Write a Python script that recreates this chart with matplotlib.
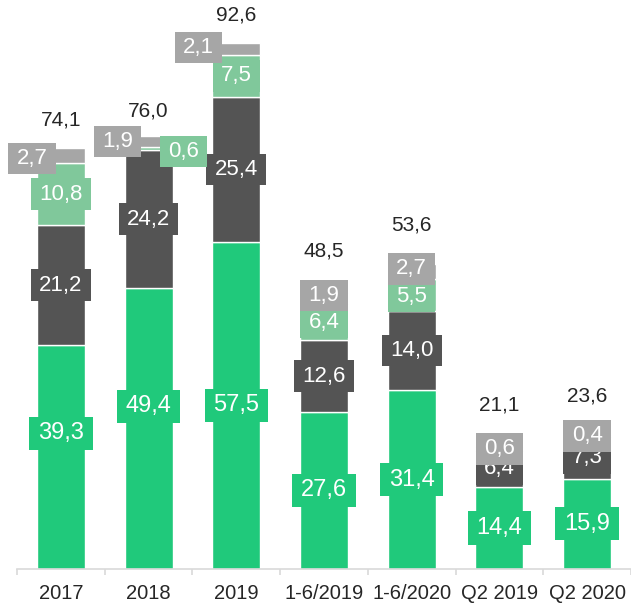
import numpy as np
import matplotlib
matplotlib.use('Agg')
import matplotlib.pyplot as plt
from matplotlib.path import Path

plt.rcParams['font.family'] = ['Liberation Sans', 'DejaVu Sans']

# Data
categories = ['2017', '2018', '2019', '1-6/2019', '1-6/2020', 'Q2 2019', 'Q2 2020']
seg_green = [39.3, 49.4, 57.5, 27.6, 31.4, 14.4, 15.9]
seg_dark = [21.2, 24.2, 25.4, 12.6, 14.0, 6.4, 7.3]
seg_light_green = [10.8, 0.6, 7.5, 6.4, 5.5, 0.0, 0.0]
seg_light_gray = [2.7, 1.9, 2.1, 1.9, 2.7, 0.6, 0.4]
totals = [74.1, 76.0, 92.6, 48.5, 53.6, 21.1, 23.6]

# Styles
colors = ['#20C97B', '#545454', '#80C89B', '#A6A6A6']
label_sizes = [17, 16, 16, 16]
text_col = '#262626'
# manual label shifts in pixels (dx, dy) for crowded segments
shifts = {(0, 0): (0, 24), (1, 0): (0, 22),
          (0, 3): (-29, -3), (1, 3): (-31, 0), (1, 2): (35, -3), (2, 3): (-38, 1),
          (3, 3): (0, 3), (4, 3): (0, 3), (4, 2): (0, -1)}
total_gap = [27, 26, 27, 42, 39, 44, 39]  # px above bar top


def label_box(x0, y0, width, height, mutation_size):
    # rectangle with more padding left/right than top/bottom
    hp, vp = 0.37 * mutation_size, 0.24 * mutation_size
    x0, y0 = x0 - hp, y0 - vp
    x1, y1 = x0 + width + 2 * hp, y0 + height + 2 * vp
    return Path([(x0, y0), (x1, y0), (x1, y1), (x0, y1), (x0, y0)],
                [Path.MOVETO, Path.LINETO, Path.LINETO, Path.LINETO, Path.CLOSEPOLY])


fig = plt.figure(figsize=(6.31, 6.05), dpi=100)
ax = fig.add_axes([17 / 631, 36 / 605, 614 / 631, 569 / 605])

x = np.arange(len(categories))
segments = [seg_green, seg_dark, seg_light_green, seg_light_gray]
bottom = np.zeros(len(categories))
width = 0.547

for s, vals in enumerate(segments):
    vals = np.array(vals)
    ax.bar(x, vals, width, bottom=bottom, color=colors[s], edgecolor='white',
           linewidth=1.0, zorder=2)
    for i, v in enumerate(vals):
        if v <= 0:
            continue
        dx, dy = shifts.get((i, s), (0, 0))
        ax.annotate(f'{v:.1f}'.replace('.', ','), xy=(i, bottom[i] + v / 2),
                    xytext=(dx * 0.72, dy * 0.72), textcoords='offset points',
                    ha='center', va='center', color='white', fontsize=label_sizes[s],
                    zorder=3 + s,
                    bbox=dict(boxstyle=label_box, fc=colors[s], ec='none'))
    bottom += vals

for i, t in enumerate(totals):
    ax.annotate(f'{t:.1f}'.replace('.', ','), xy=(i, t),
                xytext=(0, total_gap[i] * 0.72), textcoords='offset points',
                ha='center', va='center', color=text_col, fontsize=15)

ax.set_xlim(-0.5, len(categories) - 0.5)
ax.set_ylim(0, 100)
for sp in ['top', 'right', 'left']:
    ax.spines[sp].set_visible(False)
ax.spines['bottom'].set_color('#d9d9d9')
ax.spines['bottom'].set_linewidth(1.2)
ax.set_yticks([])
ax.set_xticks(x)
ax.set_xticklabels(categories, fontsize=14.5, color=text_col)
ax.tick_params(axis='x', which='major', length=0, pad=11)
ax.set_xticks(np.arange(len(categories) + 1) - 0.5, minor=True)
ax.tick_params(axis='x', which='minor', length=4.5, color='#d9d9d9', width=1.2)

fig.savefig('out.png', dpi=100)
